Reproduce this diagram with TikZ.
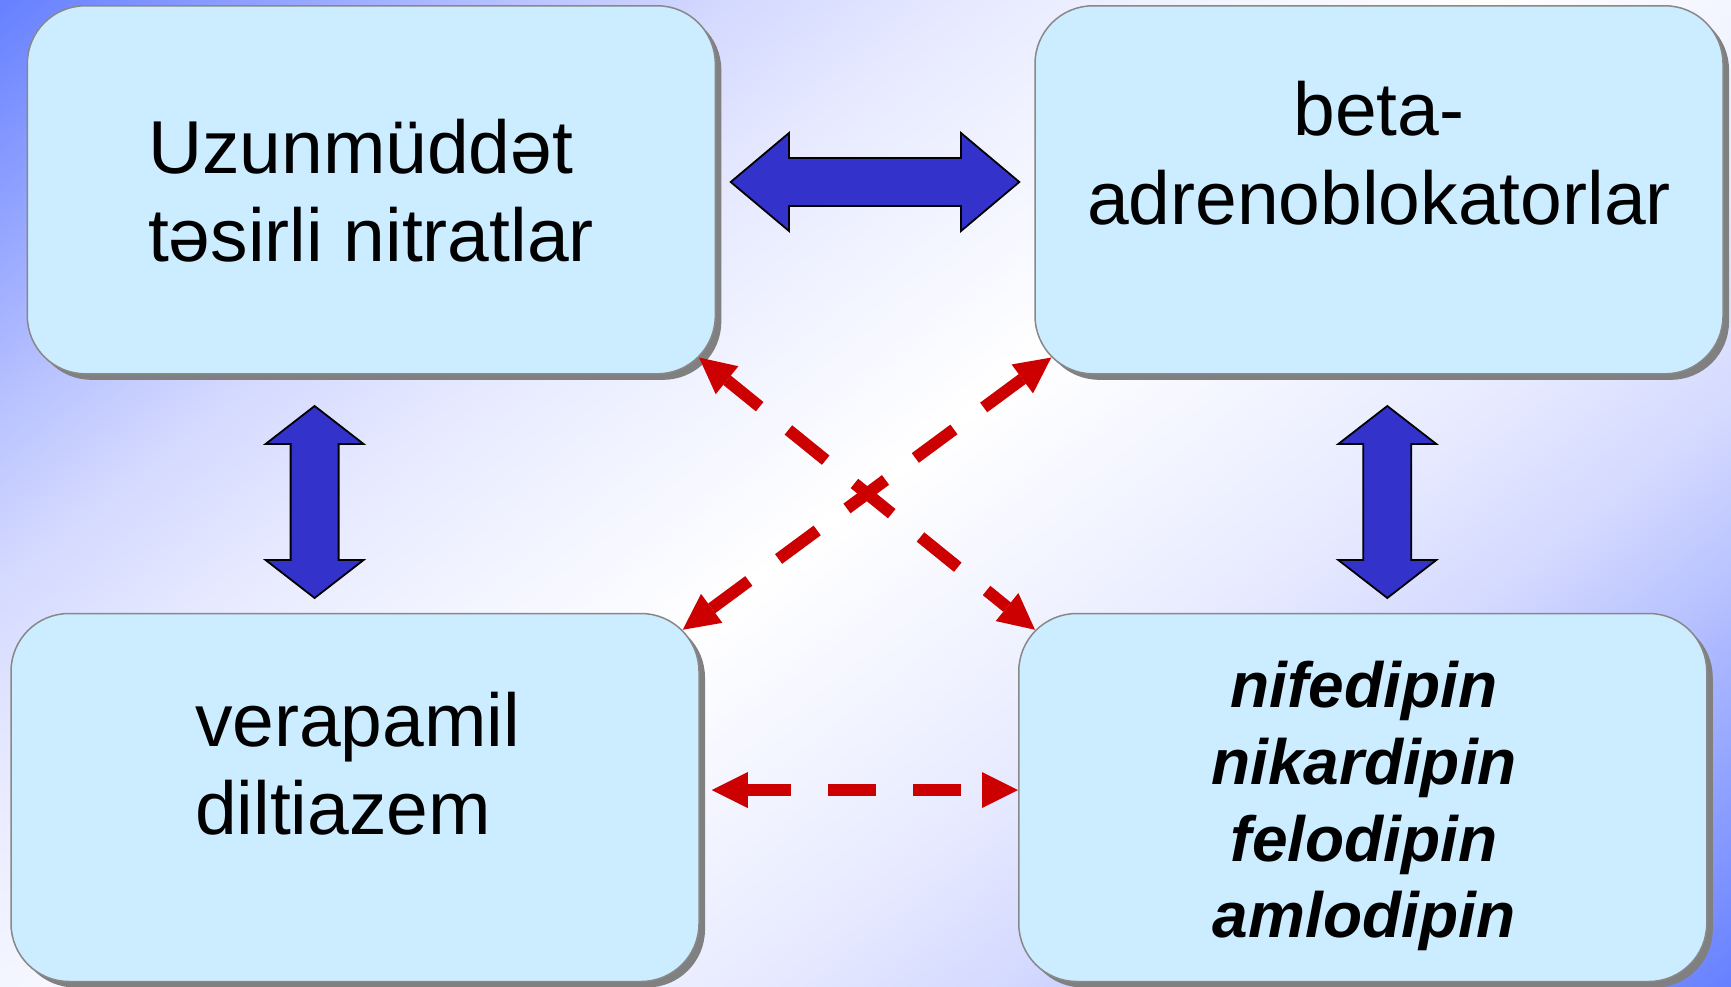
\documentclass[tikz,border=0pt]{standalone}
\usepackage{fontspec}
\setmainfont{Liberation Sans}
\usetikzlibrary{arrows.meta,shadows}

\definecolor{bgcorner}{RGB}{102,128,255}
\definecolor{boxfill}{RGB}{204,236,255}
\definecolor{boxline}{RGB}{136,136,136}
\definecolor{boxshadow}{RGB}{128,128,128}
\definecolor{linkred}{RGB}{204,0,0}
\definecolor{linkblue}{RGB}{51,51,204}

% diagonal backdrop: blue corners fading to white across the middle
\pgfdeclarehorizontalshading{bgshade}{100bp}{%
  rgb(0bp)=(0.4,0.502,1);
  rgb(17.5bp)=(0.725,0.765,1);
  rgb(24.5bp)=(0.831,0.851,1);
  rgb(33.5bp)=(0.91,0.922,1);
  rgb(50bp)=(1,1,1);
  rgb(66.5bp)=(0.91,0.922,1);
  rgb(75.5bp)=(0.831,0.851,1);
  rgb(82.5bp)=(0.725,0.765,1);
  rgb(100bp)=(0.4,0.502,1)}

\tikzset{
  dblh/.pic={\draw[bluearrow] (-144.3,0) -- (-86,-49) -- (-86,-24) -- (86,-24) -- (86,-49)
      -- (144.3,0) -- (86,49) -- (86,24) -- (-86,24) -- (-86,49) -- cycle;},
  dblv/.pic={\draw[bluearrow] (0,-96) -- (49,-58) -- (24,-58) -- (24,58) -- (49,58)
      -- (0,96) -- (-49,58) -- (-24,58) -- (-24,-58) -- (-49,-58) -- cycle;}
}

\begin{document}
\begin{tikzpicture}[x=1pt,y=-1pt,
  panel/.style={draw=boxline, line width=1.5pt, fill=boxfill, rounded corners=58pt,
    minimum width=688pt, minimum height=368pt, inner sep=0pt,
    drop shadow={shadow xshift=6pt, shadow yshift=-6pt, fill=boxshadow, opacity=1}},
  boxtext/.style={inner sep=0pt, outer sep=0pt, font=\fontsize{75}{88}\selectfont},
  drugtext/.style={inner sep=0pt, outer sep=0pt, font=\fontsize{64}{77}\selectfont\bfseries\itshape},
  redlink/.style={draw=linkred, line width=12pt, dash pattern=on 48pt off 37pt,
    arrows={Triangle[length=36pt,width=36pt,line width=0pt]-Triangle[length=36pt,width=36pt,line width=0pt]}},
  bluearrow/.style={fill=linkblue, draw=black, line width=1.8pt, line join=miter}
]
\useasboundingbox (0,0) rectangle (1731,987);

% backdrop
\fill[bgcorner] (0,0) rectangle (1731,987);
\begin{scope}
  \clip (0,0) rectangle (1731,987);
  \node[inner sep=0pt, outer sep=0pt, rotate=-51.69, xscale=18.40, yscale=21] (backdrop)
    at (865.5,493.5) {\pgfuseshading{bgshade}};
\end{scope}

% the four drug groups
\node[panel] (tl) at (371.3,189.8) {};
\node[panel] (tr) at (1379,189.8) {};
\node[panel] (bl) at (355,797.5) {};
\node[panel] (br) at (1362.75,797.5) {};

\node[boxtext, anchor=base west] (tl1) at (148,173.3) {Uzunmüddət};
\node[boxtext, anchor=base west] (tl2) at (148,261.7) {təsirli nitratlar};
\node[boxtext, anchor=base] (tr1) at (1379,136) {beta-};
\node[boxtext, anchor=base] (tr2) at (1379,224) {adrenoblokatorlar};
\node[boxtext, anchor=base west] (bl1) at (195,746) {verapamil};
\node[boxtext, anchor=base west] (bl2) at (195,834) {diltiazem};
\node[drugtext, anchor=base] (br1) at (1364,707) {nifedipin};
\node[drugtext, anchor=base] (br2) at (1364,784) {nikardipin};
\node[drugtext, anchor=base] (br3) at (1364,861) {felodipin};
\node[drugtext, anchor=base] (br4) at (1364,937) {amlodipin};

% recommended combinations
\pic (linkTop) at (875,182) {dblh};
\pic (linkLeft) at (314.6,502) {dblv};
\pic (linkRight) at (1387.3,502) {dblv};

% combinations with caution
\draw[redlink, dash phase=6pt] ([shift={(-17,-17)}]tl.south east) -- ([shift={(17,17)}]br.north west);
\draw[redlink] ([shift={(17,-17)}]tr.south west) -- ([shift={(-17,17)}]bl.north east);
\draw[redlink, dash phase=5pt] ([xshift=12pt,yshift=7.5pt]bl.east) -- ([yshift=7.5pt]br.west);
\end{tikzpicture}
\end{document}
